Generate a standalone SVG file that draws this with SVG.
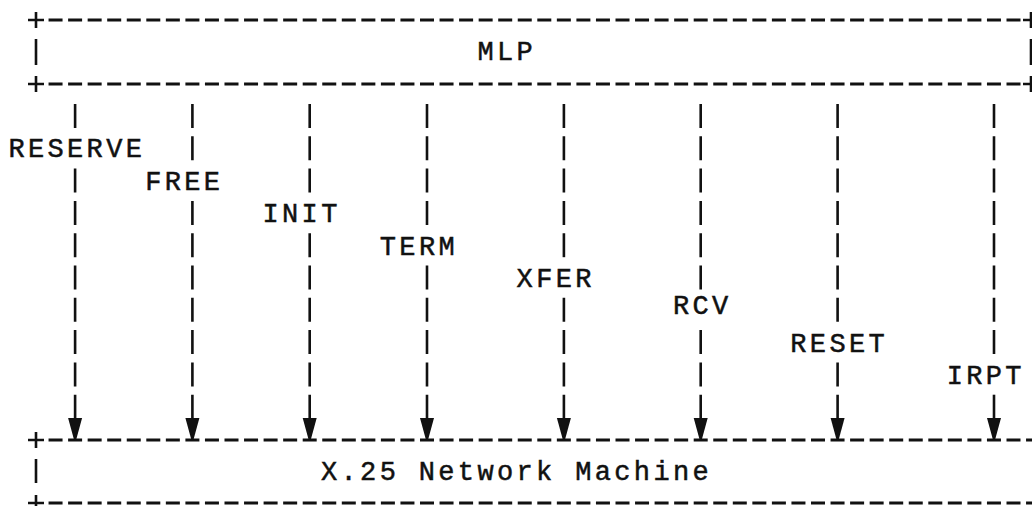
<svg xmlns="http://www.w3.org/2000/svg" width="1032" height="506" viewBox="0 0 1032 506">
<style>
.t{font-family:"Liberation Mono","DejaVu Sans Mono",monospace;font-size:27px;letter-spacing:3.35px;fill:#111;stroke:#111;stroke-width:0.5}
.dash{stroke:#111;stroke-width:3;stroke-dasharray:14 5.55;fill:none}
.bar{stroke:#111;stroke-width:2.6;fill:none}
.shaft{stroke:#111;stroke-width:2.6;stroke-dasharray:24 8.3;fill:none}
.head{fill:#111}
</style>
<rect width="1032" height="506" fill="#fff"/>
<g id="mlp">
  <path class="bar" d="M28 20H44M36 12V28M36 39V65M28 84H44M36 76V92M1023 20H1032M1031 12V28M1031 39V65M1023 84H1032M1031 76V92"/>
  <line class="dash" x1="48.55" y1="20" x2="1021" y2="20"/>
  <line class="dash" x1="48.55" y1="84" x2="1021" y2="84"/>
  <text class="t" x="477.5" y="60">MLP</text>
</g>
<g id="x25">
  <path class="bar" d="M28 440H44M36 432V448M36 459V483M28 503H44M36 495V506"/>
  <line class="dash" x1="48.55" y1="440" x2="1032" y2="440"/>
  <line class="dash" x1="48.55" y1="503" x2="1032" y2="503"/>
  <text class="t" x="321" y="480">X.25 Network Machine</text>
</g>
<g id="connectors">
  <g id="c-reserve">
    <line class="shaft" x1="75.1" y1="104" x2="75.1" y2="128"/>
    <line class="shaft" x1="75.1" y1="168.6" x2="75.1" y2="418.7"/>
    <polygon class="head" points="68.1,418 82.1,418 76.1,440 74.1,440"/>
    <text class="t" x="8.4" y="157">RESERVE</text>
  </g>
  <g id="c-free">
    <line class="shaft" x1="192.4" y1="104" x2="192.4" y2="160.3"/>
    <line class="shaft" x1="192.4" y1="200.9" x2="192.4" y2="418.7"/>
    <polygon class="head" points="185.4,418 199.4,418 193.4,440 191.4,440"/>
    <text class="t" x="145.2" y="190">FREE</text>
  </g>
  <g id="c-init">
    <line class="shaft" x1="309.7" y1="104" x2="309.7" y2="192.6"/>
    <line class="shaft" x1="309.7" y1="233.2" x2="309.7" y2="418.7"/>
    <polygon class="head" points="302.7,418 316.7,418 310.7,440 308.7,440"/>
    <text class="t" x="262.5" y="222">INIT</text>
  </g>
  <g id="c-term">
    <line class="shaft" x1="427" y1="104" x2="427" y2="224.9"/>
    <line class="shaft" x1="427" y1="265.5" x2="427" y2="418.7"/>
    <polygon class="head" points="420,418 434,418 428,440 426,440"/>
    <text class="t" x="379.8" y="255">TERM</text>
  </g>
  <g id="c-xfer">
    <line class="shaft" x1="563.9" y1="104" x2="563.9" y2="257.2"/>
    <line class="shaft" x1="563.9" y1="297.8" x2="563.9" y2="418.7"/>
    <polygon class="head" points="556.9,418 570.9,418 564.9,440 562.9,440"/>
    <text class="t" x="516.6" y="287">XFER</text>
  </g>
  <g id="c-rcv">
    <line class="shaft" x1="700.7" y1="104" x2="700.7" y2="289.5"/>
    <line class="shaft" x1="700.7" y1="330.1" x2="700.7" y2="418.7"/>
    <polygon class="head" points="693.7,418 707.7,418 701.7,440 699.7,440"/>
    <text class="t" x="673" y="314">RCV</text>
  </g>
  <g id="c-reset">
    <line class="shaft" x1="837.6" y1="104" x2="837.6" y2="321.8"/>
    <line class="shaft" x1="837.6" y1="362.4" x2="837.6" y2="418.7"/>
    <polygon class="head" points="830.6,418 844.6,418 838.6,440 836.6,440"/>
    <text class="t" x="790.3" y="352">RESET</text>
  </g>
  <g id="c-irpt">
    <line class="shaft" x1="994" y1="104" x2="994" y2="354.1"/>
    <line class="shaft" x1="994" y1="394.7" x2="994" y2="418.7"/>
    <polygon class="head" points="987,418 1001,418 995,440 993,440"/>
    <text class="t" x="946.7" y="384">IRPT</text>
  </g>
</g>
</svg>
